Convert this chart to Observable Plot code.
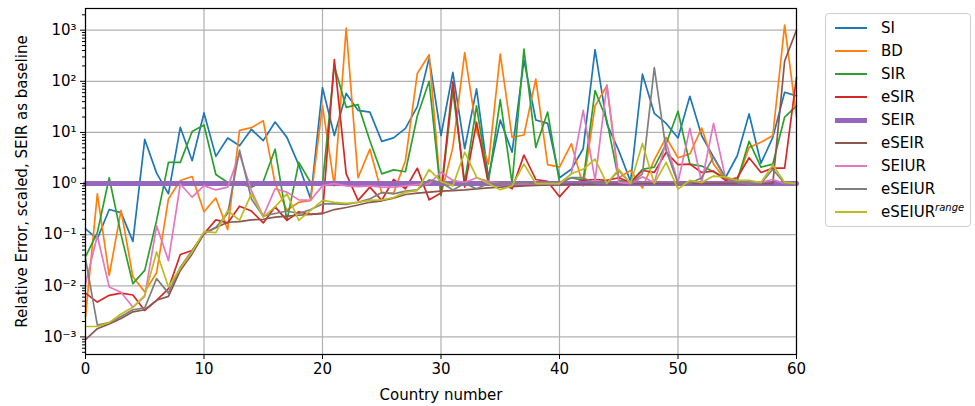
<!DOCTYPE html>
<html>
<head>
<meta charset="utf-8">
<script src="https://cdn.jsdelivr.net/npm/d3@7"></script>
<script src="https://cdn.jsdelivr.net/npm/@observablehq/plot@0.6"></script>
<style>
  html, body { margin: 0; padding: 0; background: #fff; }
  #wrap { position: relative; width: 975px; height: 406px; font-family: "DejaVu Sans", sans-serif; }
  #legend {
    position: absolute; left: 825px; top: 13px; width: 146px; height: 214px;
    border: 1px solid #cfcfcf; border-radius: 4px; background: #fff; box-sizing: border-box;
  }
  .item { position: absolute; left: 0; height: 20px; display: flex; align-items: center; font-size: 15px; color: #000; }
  .swatch { width: 32px; margin-left: 9px; margin-right: 14px; }
  sup { font-size: 10px; font-style: italic; vertical-align: 6px; line-height: 0; }
</style>
</head>
<body>
<div id="wrap"><div id="legend"></div></div>
<script>
// Relative error per country for each epidemic model, scaled so SEIR = 1
const countries = d3.range(61);
const models = ["SI", "BD", "SIR", "eSIR", "SEIR", "eSEIR", "SEIUR", "eSEIUR", "eSEIURrange"];
const colors = ["#1f77b4", "#ff7f0e", "#2ca02c", "#d62728", "#9467bd", "#8c564b", "#e377c2", "#7f7f7f", "#bcbd22"];

const SI = [0.13,0.083,0.31,0.27,0.074,7.3,1.6,0.63,12.6,2.8,
  24,3.4,7.8,5.5,11.5,6.9,16,8,2.3,0.5,
  75,8.7,58,27,25,6.7,7.8,12,32,285,
  8.7,150,4.8,71,1.3,17.5,4.1,260,17.5,15,
  1.3,1.9,4.8,415,14.7,4.4,1.1,138,23.6,15,
  7.8,51,8.6,3.3,1.3,3.5,23,2.5,8,61,52];
const BD = [0.0025,0.63,0.016,0.3,0.015,0.0076,0.018,0.5,1.15,1.37,
  0.28,0.52,0.125,11,12.4,17,1.0,0.3,0.43,0.47,
  33,0.9,1100,1.3,4.7,0.65,0.65,2.8,142,330,
  0.6,5.1,365,10.8,2.4,340,8,8.9,110,2.35,
  2.1,6,0.9,33,82,1.3,1.8,0.82,2.9,8,
  3.2,3.8,12.2,2.4,1.2,1.15,5.1,6.4,8.7,1260,20];
const SIR = [0.037,0.11,1.3,0.1,0.011,0.02,0.19,2.6,2.6,10.4,
  14,1.5,1.05,1.0,0.85,1.1,4.7,0.19,2.6,1.05,
  1.0,200,31,35,6.9,1.55,1.85,1.7,21,100,
  0.58,66,1.05,33,1.05,44,1.0,425,5.1,25,
  1.05,1.3,1.15,66,17,1.15,1.05,1.9,2.1,6,
  26,2.4,2.2,1.7,1.3,1.15,6.7,2.1,2.4,20,33];
const eSIR = [0.0072,0.0048,0.0065,0.0072,0.0066,0.0033,0.0052,0.0088,0.041,0.049,
  0.104,0.195,0.17,0.36,0.29,0.17,0.35,0.19,0.28,0.25,
  0.26,265,1.55,0.47,0.85,0.47,1.2,0.79,2.0,0.48,
  0.65,99,0.85,15.8,1.0,1.05,0.79,3.6,1.2,1.1,
  0.55,1.0,1.15,1.2,1.15,1.3,1.05,1.8,1.65,4.1,
  2.35,2.4,1.65,1.75,1.15,1.3,3.2,1.65,2.0,2.0,120];
const SEIR = countries.map(() => 1);
const eSEIR = [0.00089,0.00145,0.0018,0.0023,0.0031,0.0034,0.0052,0.0062,0.02,0.042,
  0.104,0.136,0.175,0.18,0.195,0.2,0.22,0.23,0.24,0.25,
  0.26,0.31,0.34,0.38,0.43,0.46,0.52,0.61,0.65,0.68,
  0.71,0.73,0.75,0.79,0.82,0.85,0.87,0.9,0.92,0.94,
  0.95,0.96,0.97,0.97,0.98,0.98,0.98,0.99,0.99,0.99,
  0.99,0.99,0.99,1.0,1.0,1.0,1.0,1.0,1.0,250,1000];
const SEIUR = [0.011,0.095,0.0095,0.0075,0.0038,0.0062,0.15,0.031,0.98,0.54,
  0.91,0.75,0.85,3.8,0.73,0.23,0.79,0.68,0.48,0.47,
  0.91,1.0,0.9,0.87,0.9,0.85,0.85,0.9,0.95,1.0,
  1.66,1.15,1.05,1.3,1.1,1.0,1.0,1.0,1.0,1.0,
  1.0,1.55,27,1.15,85,1.05,1.0,1.35,1.05,6.4,
  1.05,12,1.05,15,1.3,1.05,1.0,1.05,1.2,1.0,1.0];
const eSEIUR = [0.034,0.0017,0.0019,0.0025,0.0034,0.0037,0.0138,0.0072,0.023,0.049,
  0.107,0.14,0.26,4.5,0.5,0.23,0.26,0.29,0.26,0.31,
  0.4,0.4,0.39,0.43,0.5,0.67,0.63,0.71,0.75,1.18,
  1.06,0.75,1.0,0.79,1.0,1.0,1.0,1.05,1.0,1.0,
  1.0,1.3,1.3,1.0,1.0,1.8,1.0,1.55,186,4.5,
  1.0,1.0,1.3,3.3,1.3,1.05,1.0,1.0,1.9,1.0,1.0];
const eSEIURrange = [0.0016,0.0016,0.0019,0.0028,0.0038,0.0065,0.046,0.0095,0.022,0.046,
  0.115,0.11,0.3,0.19,0.63,0.22,0.35,0.63,0.19,0.3,
  0.47,0.43,0.41,0.43,0.47,0.48,0.53,0.68,0.73,1.88,
  1.1,0.9,4.1,1.33,1.0,0.76,0.9,2.4,1.0,1.0,
  1.0,1.55,1.9,3.0,1.0,1.9,1.0,6.1,1.0,2.6,
  0.78,1.15,1.05,1.4,1.35,1.15,1.15,1.05,2.3,1.05,1.0];

const seriesValues = [SI, BD, SIR, eSIR, SEIR, eSEIR, SEIUR, eSEIUR, eSEIURrange];
const xTicks = [0, 10, 20, 30, 40, 50, 60];
const yTicks = [1e-3, 1e-2, 1e-1, 1e0, 1e1, 1e2, 1e3];
const yTickLabels = ["10⁻³", "10⁻²", "10⁻¹", "10⁰", "10¹", "10²", "10³"];
const yMinor = [];
for (let e = -4; e <= 3; e++) for (let m = 2; m <= 9; m++) yMinor.push(m * Math.pow(10, e));

const lineMarks = models.map((name, k) => {
  const rows = countries.map((c, i) => ({country: c, value: seriesValues[k][i]}));
  return Plot.line(rows, {
    x: "country", y: "value",
    stroke: colors[k],
    strokeWidth: name === "SEIR" ? 5 : 1.7,
    strokeLinejoin: "round"
  });
});

const chart = Plot.plot({
  width: 975,
  height: 406,
  marginLeft: 85,
  marginRight: 179,
  marginTop: 8,
  marginBottom: 52,
  style: {fontFamily: "DejaVu Sans, sans-serif", fontSize: "15px", color: "#000", background: "#fff"},
  x: {domain: [0, 60]},
  y: {type: "log", domain: [4.53e-4, 2655]},
  marks: [
    Plot.ruleX(xTicks, {stroke: "#b0b0b0", strokeWidth: 1.2}),
    Plot.ruleY(yTicks, {stroke: "#b0b0b0", strokeWidth: 1.2}),
    ...lineMarks,
    Plot.frame({stroke: "#000", strokeWidth: 1.2}),
    Plot.axisX(xTicks, {tickSize: 5, tickPadding: 4, label: null, tickFormat: d => String(d), stroke: "#000", fill: "#000"}),
    Plot.axisY(yMinor.filter(v => v > 4.53e-4 && v < 2655), {tickSize: 3, tickFormat: () => "", label: null, stroke: "#000"}),
    Plot.axisY(yTicks, {tickSize: 5, tickPadding: 4, label: null, tickFormat: d => yTickLabels[yTicks.indexOf(d)], stroke: "#000", fill: "#000"}),
    Plot.text(["Country number"], {frameAnchor: "bottom", dy: 45, fontSize: 15, fill: "#000", textAnchor: "middle"}),
    Plot.text(["Relative Error, scaled, SEIR as baseline"], {frameAnchor: "left", rotate: -90, dx: -63, fontSize: 15, fill: "#000", textAnchor: "middle"})
  ]
});

const wrap = document.getElementById("wrap");
wrap.insertBefore(chart, wrap.firstChild);
chart.style.position = "absolute";
chart.style.left = "0";
chart.style.top = "0";

// Legend entries
const legend = document.getElementById("legend");
models.forEach((name, k) => {
  const item = document.createElement("div");
  item.className = "item";
  item.style.top = (4 + k * 23) + "px";
  const sw = document.createElement("div");
  sw.className = "swatch";
  sw.style.height = (name === "SEIR" ? 5 : 2) + "px";
  sw.style.background = colors[k];
  item.appendChild(sw);
  const label = document.createElement("span");
  if (name === "eSEIURrange") {
    label.innerHTML = "eSEIUR<sup>range</sup>";
  } else {
    label.textContent = name;
  }
  item.appendChild(label);
  legend.appendChild(item);
});
</script>
</body>
</html>
